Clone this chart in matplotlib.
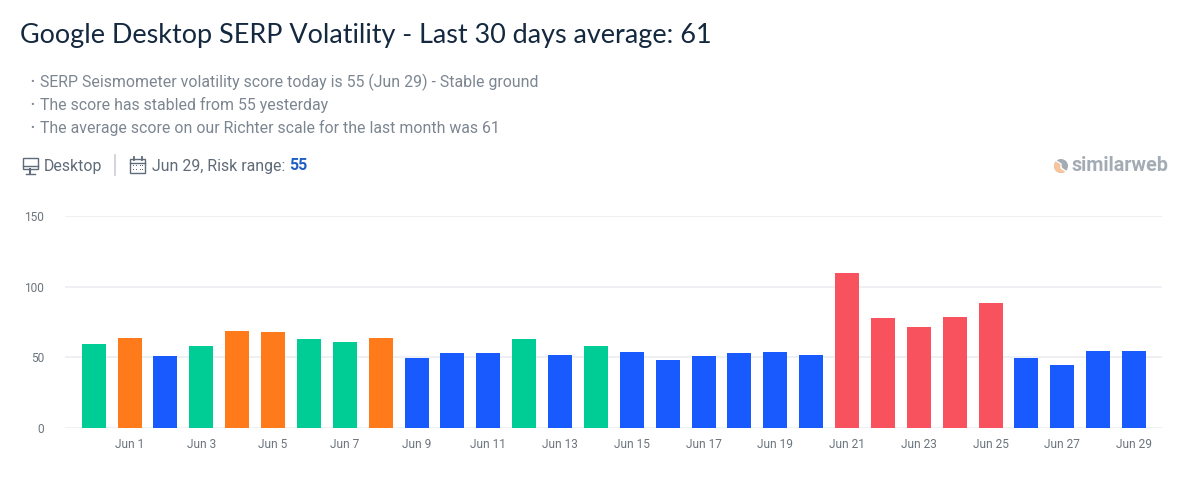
import matplotlib
matplotlib.use('Agg')
import matplotlib.pyplot as plt
from matplotlib.patches import Rectangle, Circle, Wedge

days = ['May 31'] + [f'Jun {d}' for d in range(1, 30)]
scores = [59.5, 64, 51, 58, 68.5, 68, 63, 60.5, 64, 49.5,
          53, 53, 63, 51.5, 58, 53.5, 48, 51, 53, 53.5,
          51.5, 109.5, 78, 71.5, 78.5, 88.5, 49.5, 44.5, 54.5, 54.5]
risk = ['g', 'o', 'b', 'g', 'o', 'o', 'g', 'g', 'o', 'b',
        'b', 'b', 'g', 'b', 'g', 'b', 'b', 'b', 'b', 'b',
        'b', 'r', 'r', 'r', 'r', 'r', 'b', 'b', 'b', 'b']
risk_colors = {'g': '#00cc96', 'o': '#ff7a1a', 'b': '#195afe', 'r': '#f9525f'}
y_ticks = [0, 50, 100, 150]
notes = ['SERP Seismometer volatility score today is 55 (Jun 29) - Stable ground',
         'The score has stabled from 55 yesterday',
         'The average score on our Richter scale for the last month was 61']

W, H = 1203, 488
plt.rcParams['font.family'] = ['Roboto', 'DejaVu Sans']
fig = plt.figure(figsize=(W / 100, H / 100), dpi=100)

# chart area, in pixels of the reference
left, right, top, bottom = 65, 1162, 216, 428
ax = fig.add_axes([left / W, 1 - bottom / H, (right - left) / W, (bottom - top) / H])
x = list(range(len(days)))
ax.bar(x, scores, width=0.67, color=[risk_colors[r] for r in risk], zorder=3)
ax.set_xlim(-0.8, 29.78)
ax.set_ylim(0, 150)
ax.set_yticks(y_ticks)
ax.set_xticks(x[1::2])
ax.set_xticklabels(days[1::2])
ax.tick_params(length=0, labelsize=8.6, labelcolor='#6b747d')
ax.tick_params(axis='x', pad=7)
ax.tick_params(axis='y', pad=15)
ax.grid(axis='y', color='#eceef1', linewidth=1.2, zorder=0)
for s in ax.spines.values():
    s.set_visible(False)
ax.set_axisbelow(True)

# overlay in pixel coordinates for the header
ov = fig.add_axes([0, 0, 1, 1], facecolor='none')
ov.set_xlim(0, W)
ov.set_ylim(H, 0)
ov.axis('off')

ov.text(20, 35, 'Google Desktop SERP Volatility - Last 30 days average: 61', fontsize=19.45,
        family=['Lato', 'DejaVu Sans'], color='#14283f', va='center')

for i, note in enumerate(notes):
    y = 82 + i * 23
    ov.text(30, y, '•', fontsize=8, color='#7c8691', va='center')
    ov.text(40, y, note, fontsize=11.46, color='#7c8691', va='center')

# desktop icon
grey = '#5f6b78'
ov.add_patch(Rectangle((22.5, 158), 15, 11, fill=False, ec=grey, lw=1))
ov.plot([22.5, 37.5], [166, 166], color=grey, lw=1)
ov.plot([30, 30], [169, 173], color=grey, lw=1.5)
ov.plot([25.5, 34.5], [173.5, 173.5], color=grey, lw=1)
ov.text(44, 166, 'Desktop', fontsize=11.46, color=grey, va='center')
ov.plot([115, 115], [155, 175], color='#c9ced3', lw=1.2)

# calendar icon
ov.add_patch(Rectangle((130, 159), 15, 14, fill=False, ec=grey, lw=1))
ov.plot([130, 145], [162.5, 162.5], color=grey, lw=1)
for px in (133.5, 141.5):
    ov.plot([px, px], [156.5, 160], color=grey, lw=1.3)
for py in (165, 169):
    for px in (132.5, 136, 139.5, 142):
        ov.add_patch(Rectangle((px, py), 1.2, 1.2, fc=grey, ec='none'))

ov.text(152, 166, 'Jun 29, Risk range:', fontsize=11.46, color=grey, va='center')
ov.text(289, 166, '55', fontsize=11.46, color='#1f5fc4', fontweight='bold', va='center')

# similarweb logo
ov.add_patch(Circle((1061, 166), 7, fc='#a3abb4', ec='none'))
ov.add_patch(Wedge((1061, 166), 7, 50, 230, fc='#f8c49c', ec='none'))
ov.plot([1056.5, 1061, 1061, 1065.5], [161, 164, 168, 171], color='white', lw=1)
ov.text(1072, 165.5, 'similarweb', fontsize=14.2, color='#a3abb4', fontweight='bold',
        va='center')

fig.savefig('out.png', dpi=100, facecolor='white')
